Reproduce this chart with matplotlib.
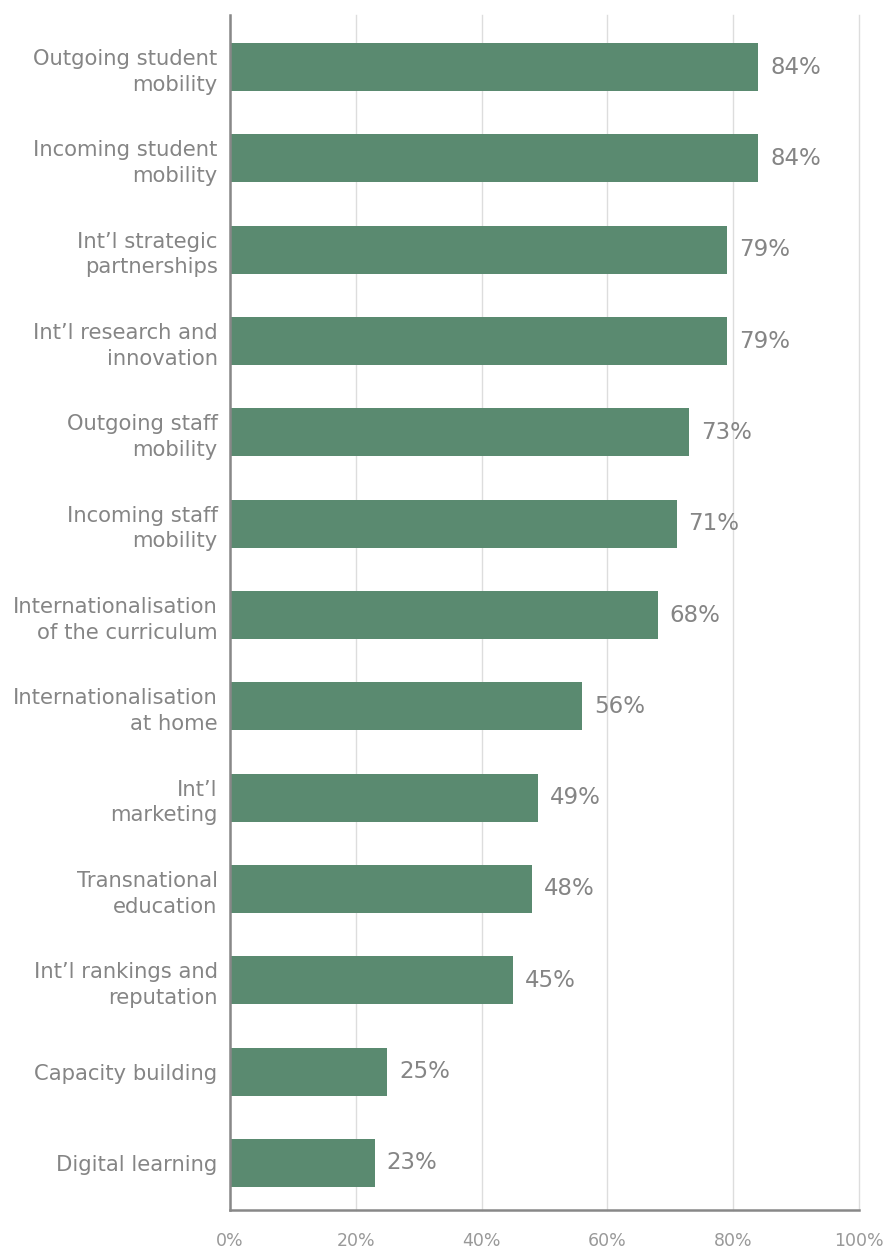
import matplotlib.pyplot as plt
from matplotlib.ticker import FuncFormatter

categories = ["Outgoing student\nmobility", "Incoming student\nmobility",
              "Int’l strategic\npartnerships", "Int’l research and\ninnovation",
              "Outgoing staff\nmobility", "Incoming staff\nmobility",
              "Internationalisation\nof the curriculum", "Internationalisation\nat home",
              "Int’l\nmarketing", "Transnational\neducation",
              "Int’l rankings and\nreputation", "Capacity building", "Digital learning"]
values = [84, 84, 79, 79, 73, 71, 68, 56, 49, 48, 45, 25, 23]
ticks = [0, 20, 40, 60, 80, 100]

green = "#5a8a70"
grey = "#858585"

fig = plt.figure(figsize=(8.88, 12.52), dpi=100)
ax = fig.add_axes([230 / 888, 1 - 1210 / 1252, 629 / 888, 1195 / 1252])

pos = list(range(len(categories)))
bars = ax.barh(pos, values, height=0.526, color=green, zorder=3)
for b, v in zip(bars, values):
    ax.text(b.get_width() + 1.9, b.get_y() + b.get_height() / 2, f"{v}%",
            va="center", ha="left", fontsize=16.5, color=grey)

ax.set_xlim(0, 100)
ax.set_ylim(12.515, -0.57)
ax.set_yticks(pos)
ax.set_yticklabels(categories, fontsize=15.2, color=grey, linespacing=1.35)
ax.set_xticks(ticks)
ax.xaxis.set_major_formatter(FuncFormatter(lambda x, p: f"{x:.0f}%"))
ax.tick_params(axis="x", length=0, pad=16, labelsize=12.5, labelcolor="#999999")
ax.tick_params(axis="y", length=0, pad=9)
ax.grid(axis="x", color="#dddddd", linewidth=1, zorder=0, clip_on=False)
for s in ["top", "right"]:
    ax.spines[s].set_visible(False)
for s in ["left", "bottom"]:
    ax.spines[s].set_color("#888888")
    ax.spines[s].set_linewidth(1.8)
    ax.spines[s].set_zorder(4)

fig.savefig("out.png", dpi=100)
